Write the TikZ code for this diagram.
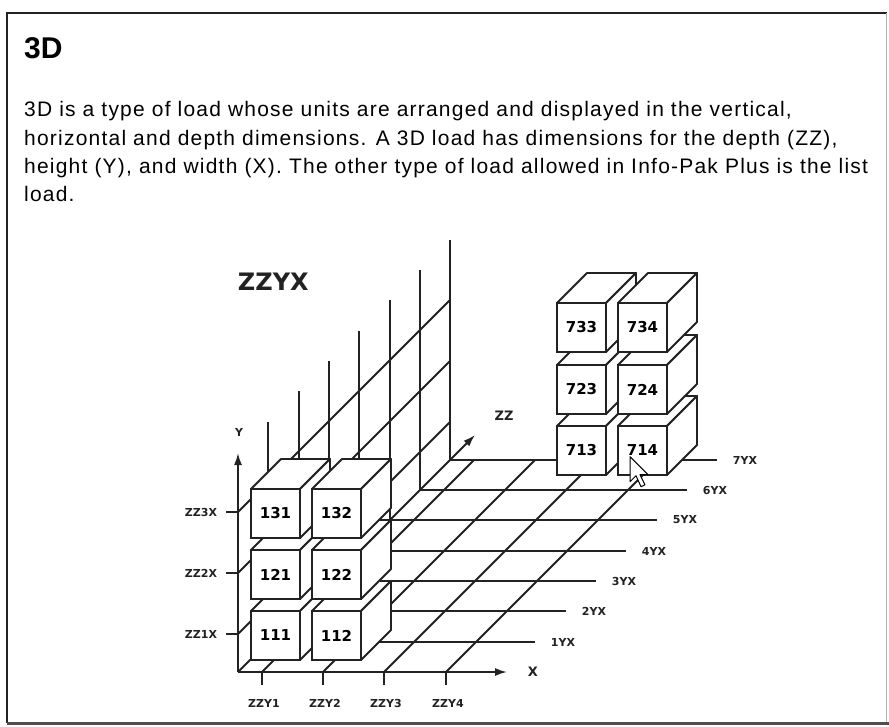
\documentclass[tikz,border=0pt]{standalone}
\usepackage{fontspec}
\setmainfont{Liberation Sans}
\newfontfamily\labelfont{DejaVu Sans}
\newfontfamily\introfont[LetterSpace=5.8]{Liberation Sans}
\usetikzlibrary{arrows.meta}
\definecolor{ink}{HTML}{222222}
\definecolor{rim}{HTML}{B0B0B0}

\newcommand{\tagfont}{\labelfont\bfseries\fontsize{11}{11}\selectfont}
\newcommand{\cubefont}{\labelfont\bfseries\fontsize{15}{15}\selectfont}
% one box of the load: front face as a node, then top and side
\newcommand{\unitcube}[3]{%
  \node[cubeface] (#1) at (#2) {#3};
  \filldraw[cubeedge] (#1.north west) -- ++(30,-30) -- ++(49,0) -- (#1.north east) -- cycle;
  \filldraw[cubeedge] (#1.north east) -- ++(30,-30) -- ++(0,49) -- (#1.south east) -- cycle;
}

\begin{document}
\begin{tikzpicture}[x=1pt,y=-1pt,
    gridline/.style={ink,line width=1.8pt},
    axis/.style={ink,line width=1.8pt,-{Latex[length=12pt,width=8pt]}},
    cubeface/.style={draw=ink,fill=white,line width=1.8pt,minimum size=49pt,
      inner sep=0pt,outer sep=0pt,font=\cubefont},
    cubeedge/.style={draw=ink,fill=white,line width=1.8pt,line join=round},
    tag/.style={font=\tagfont,text=ink,inner sep=0pt},
    body/.style={anchor=base west,inner sep=0pt,font=\introfont\fontsize{21}{28}\selectfont}
  ]
  \fill[white] (0,0) rectangle (889,726);
  \useasboundingbox (0,0) rectangle (889,726);

  % frame
  \draw[ink,line width=2pt] (887,13) -- (7,13) -- (7,723);
  \draw[ink!80,line width=3pt] (7,723.5) -- (889,723.5);
  \draw[rim,line width=1pt] (886,13) -- (886,722);

  % heading and text
  \node[anchor=base west,inner sep=0pt,font=\fontsize{30}{30}\selectfont\bfseries] (title) at (24,58.3) {3D};
  \node[body] (line1) at (24,116.7) {3D is a type of load whose units are arranged and displayed in the vertical,};
  \node[body] (line2) at (24,145) {horizontal and depth dimensions. A 3D load has dimensions for the depth (ZZ),};
  \node[body] (line3) at (24,173.3) {height (Y), and width (X). The other type of load allowed in Info-Pak Plus is the list};
  \node[body] (line4) at (24,201.7) {load.};

  \node[font=\labelfont\bfseries\fontsize{24}{24}\selectfont,text=ink] (zzyx) at (273.3,281.7) {ZZYX};

  % axes
  \coordinate (O) at (238,672);
  \coordinate (xend) at (507,672);
  \coordinate (yend) at (238,453);
  \coordinate (zend) at (475,435);

  % back wall
  \foreach \k [evaluate=\k as \d using {round(30.3*\k)}] in {1,...,7}
    \draw[gridline] (238+\d,672-\d) -- ++(0,-220);
  \foreach \h/\lab in {38/ZZ1X,99/ZZ2X,160/ZZ3X} {
    \draw[gridline] (238,672-\h) -- ++(212,-212);
    \draw[gridline] (226,672-\h) -- (238,672-\h);
    \node[tag] (\lab) at (201,672-\h) {\lab};
  }

  % floor
  \foreach \k [evaluate=\k as \d using {round(30.3*\k)}] in {1,...,7} {
    \draw[gridline] (238+\d,672-\d) -- (505+\d,672-\d);
    \node[tag] (yx\k) at (533+\d,672-\d) {\k YX};
  }
  \foreach \i/\xi in {1/262,2/323,3/384,4/446} {
    \draw[gridline] (\xi,672) -- ++(212,-212);
    \draw[gridline] (\xi,672) -- (\xi,685);
    \node[tag] (zzy\i) at (\xi+2,703) {ZZY\i};
  }

  \draw[axis] (O) -- (zend);
  \draw[axis] (O) -- (yend);
  \draw[axis] (O) -- (xend);
  \node[tag] (ylab) at (239,432) {Y};
  \node[tag,font=\labelfont\bfseries\fontsize{13}{13}\selectfont] (xlab) at (533,672) {X};
  \node[tag,font=\labelfont\bfseries\fontsize{13}{13}\selectfont] (zlab) at (504,416) {ZZ};

  % front stack
  \unitcube{c111}{275.5,635.5}{111}
  \unitcube{c112}{336.5,635.5}{112}
  \unitcube{c121}{275.5,574.5}{121}
  \unitcube{c122}{336.5,574.5}{122}
  \unitcube{c131}{275.5,513.5}{131}
  \unitcube{c132}{336.5,513.5}{132}

  % back stack
  \unitcube{c713}{581.5,450.5}{713}
  \unitcube{c714}{642.5,450.5}{714}
  \unitcube{c723}{581.5,389.5}{723}
  \unitcube{c724}{642.5,389.5}{724}
  \unitcube{c733}{581.5,327.5}{733}
  \unitcube{c734}{642.5,327.5}{734}

  % pointer
  \filldraw[fill=white,draw=black,line width=1pt,line join=round]
    (630,456.7) -- ++(0,25) -- ++(6,-6) -- ++(5,11) -- ++(4,-2) -- ++(-5,-10) -- ++(8,0) -- cycle;
\end{tikzpicture}
\end{document}
